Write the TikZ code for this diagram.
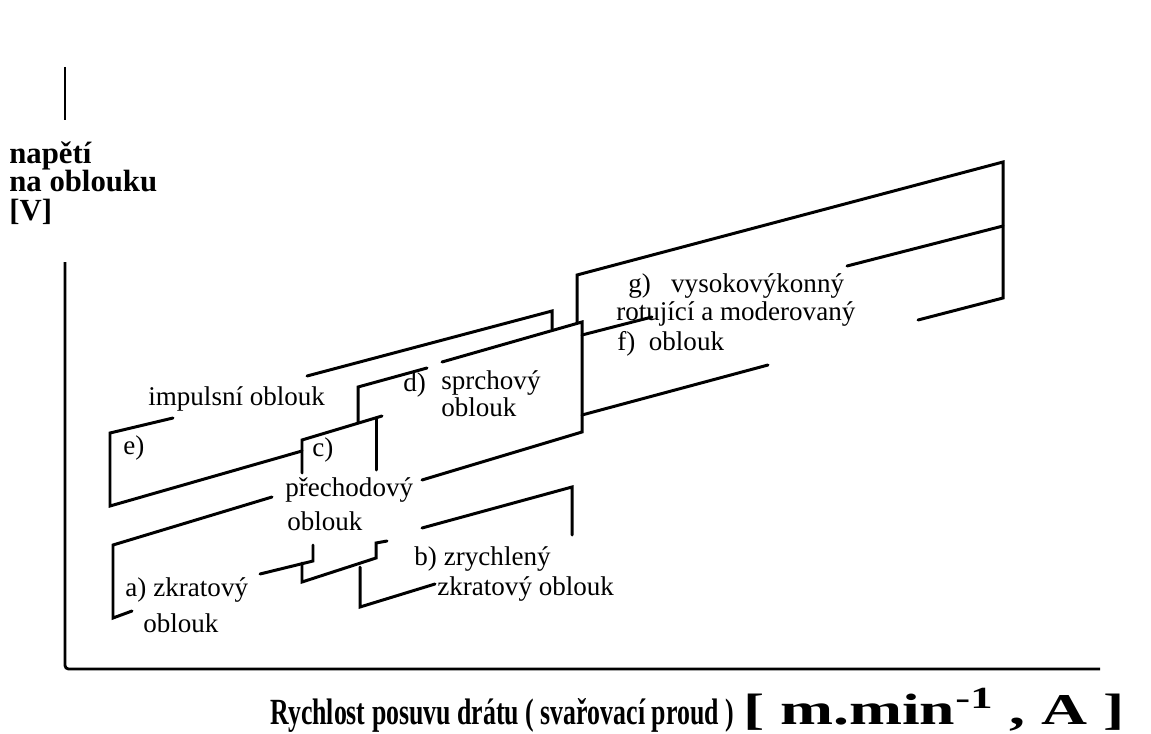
\documentclass[tikz,border=0pt]{standalone}
\usepackage{fontspec}
\setmainfont{Liberation Serif}
\usepackage{graphicx}
\usetikzlibrary{positioning}
\tikzset{
    % obrys oblasti oblouku
    pasmo/.style={
           line width=1.7pt,
           line join=miter,
           line cap=round},
    % osy grafu
    osa/.style={
           line width=1.6pt,
           rounded corners=2pt},
    % popis oblasti
    popis/.style={
           font=\fontsize{15.4}{15.4}\selectfont,
           inner sep=0pt,
           anchor=base west},
    % popis osy
    osapopis/.style={
           font=\fontsize{17.5}{17.5}\selectfont\bfseries,
           inner sep=0pt,
           anchor=base west}
}

\begin{document}
\begin{tikzpicture}[x=0.02cm, y=-0.02cm]
    \useasboundingbox (0,0) rectangle (1151,733);
    % osy
    \coordinate (pocatek) at (65,669);
    \draw[osa] (65,67) -- (65,120);
    \draw[osa] (65,262) -- (pocatek) -- (1100,669);
    \node[osapopis] (ynapeti) at (9,164) {napětí};
    \node[osapopis] (yoblouk) at (9,192) {na oblouku};
    \node[osapopis] (yjedn) at (9,220) {[V]};
    \node[osapopis, font=\fontsize{21}{21}\selectfont\bfseries] (xpopis) at (270,724)
        {\scalebox{0.7}[1]{Rychlost posuvu drátu ( svařovací proud )}
         {\fontsize{25}{25}\selectfont\scalebox{1.45}[1]{[ m.min\textsuperscript{-1} , A ]}}};
    % e) impulsni oblouk
    \draw[pasmo] (173,418) -- (110,433) -- (110,506) -- (302,451);
    \draw[pasmo] (307,376) -- (552,311) -- (552,329);
    % d) sprchovy oblouk
    \draw[pasmo] (358,422) -- (358,387) -- (427,368);
    \draw[pasmo] (442,362) -- (582,322) -- (582,432) -- (422,480);
    % c) prechodovy oblouk
    \draw[pasmo] (302,473) -- (302,440) -- (382,416);
    \draw[pasmo] (376,418) -- (376,470);
    \draw[pasmo] (302,563) -- (302,582) -- (376,558) -- (376,543) -- (387,541);
    % a) zkratovy oblouk
    \draw[pasmo] (272,497) -- (113,545) -- (113,618) -- (132,611);
    \draw[pasmo] (260,574) -- (313,561) -- (313,545);
    % b) zrychleny zkratovy oblouk
    \draw[pasmo] (422,528) -- (572,487) -- (572,535);
    \draw[pasmo] (360,567) -- (360,607) -- (435,584);
    % f), g)
    \draw[pasmo] (577,323) -- (577,275) -- (1003,162) -- (1003,298) -- (918,320);
    \draw[pasmo] (582,335) -- (652,317);
    \draw[pasmo] (847,266) -- (1003,226);
    \draw[pasmo] (582,415) -- (768,365);
    % popisy
    \node[popis] (impuls) at (148,405) {impulsní oblouk};
    \node[popis] (e) at (123,454) {e)};
    \node[popis] (c) at (312,456) {c)};
    \node[popis] (prechod) at (285,496) {přechodový};
    \node[popis] (prechod2) at (287,530) {oblouk};
    \node[popis] (d) at (403,391) {d)};
    \node[popis] (sprch) at (441,389) {sprchový};
    \node[popis] (sprch2) at (441,416) {oblouk};
    \node[popis] (b) at (414,565) {b)\hspace{4pt}zrychlený};
    \node[popis] (b2) at (437,595) {zkratový oblouk};
    \node[popis] (a) at (125,596) {a)\hspace{4pt}zkratový};
    \node[popis] (a2) at (143,632) {oblouk};
    \node[popis] (g) at (628,292) {g)\enspace\ vysokovýkonný};
    \node[popis] (rot) at (616,320) {rotující a moderovaný};
    \node[popis] (f) at (617,350) {f)\enspace oblouk};
\end{tikzpicture}
\end{document}
